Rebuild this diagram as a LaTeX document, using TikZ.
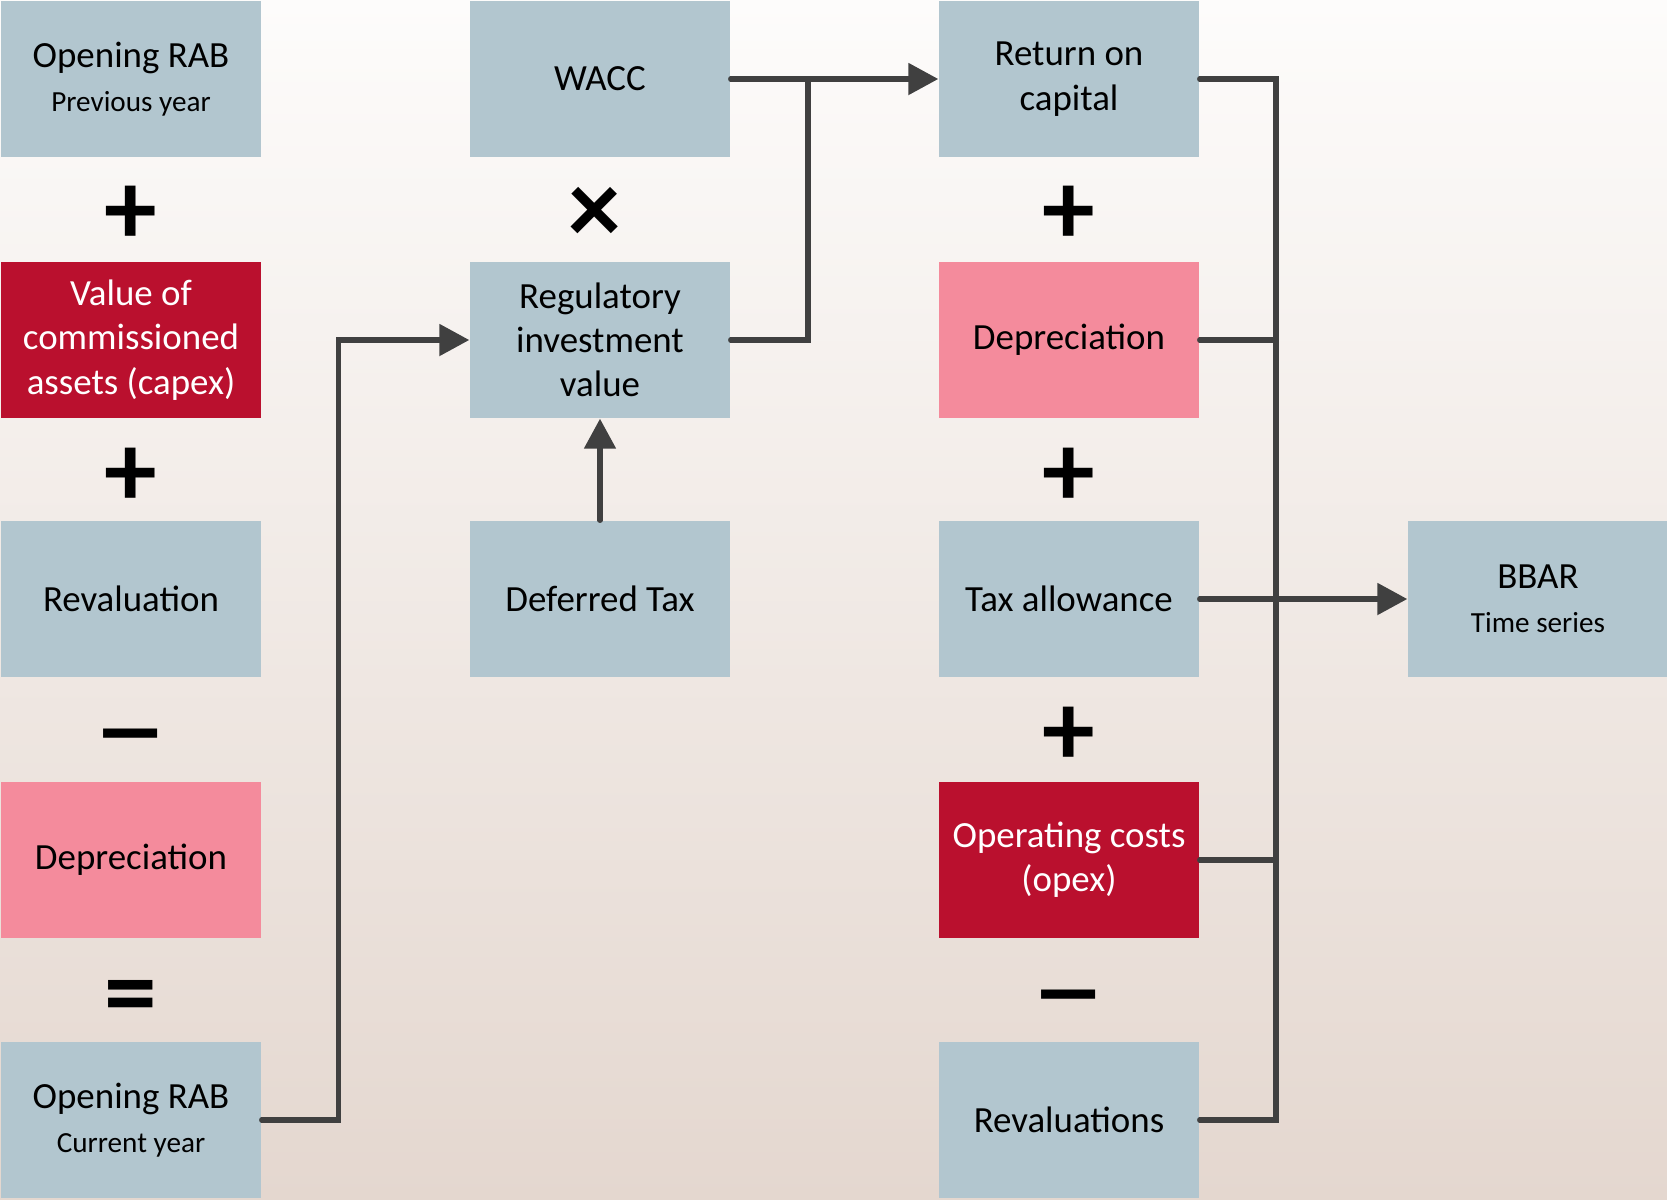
\documentclass[tikz,border=0pt]{standalone}
\usepackage{fontspec}
\setmainfont{Carlito}
\usetikzlibrary{arrows.meta}

\definecolor{boxblue}{RGB}{178,198,207}
\definecolor{capexred}{RGB}{186,16,46}
\definecolor{deprpink}{RGB}{244,139,156}
\definecolor{linegrey}{RGB}{64,64,64}
\definecolor{bgtop}{RGB}{253,252,251}
\definecolor{bgbottom}{RGB}{228,215,207}

\newcommand{\subline}[1]{{\fontsize{8.3}{10}\selectfont #1}}
\newcommand{\widedash}{\scalebox{1.45}[1]{–}}

\begin{document}
\begin{tikzpicture}[
    block/.style={minimum width=2.6cm, minimum height=1.56cm, inner sep=0pt,
                  align=center, font=\fontsize{10.5}{12.6}\selectfont},
    infobox/.style={block, fill=boxblue},
    capexbox/.style={block, fill=capexred, text=white},
    deprbox/.style={block, fill=deprpink},
    opsign/.style={font=\fontsize{30}{30}\bfseries\selectfont, inner sep=0pt},
    link/.style={draw=linegrey, line width=1.5pt, line cap=round},
    >={Triangle[length=3mm, width=3.1mm]}
]
    % Background
    \shade[top color=bgtop, bottom color=bgbottom] (0,0) rectangle (16.67,-12);
    \useasboundingbox (0,0) rectangle (16.67,-12);

    % RAB roll forward
    \node[infobox]  (orab1) at (1.31,-0.79)  {Opening RAB\\\subline{Previous year}};
    \node[capexbox] (capex) at (1.31,-3.40)  {Value of\\commissioned\\assets (capex)};
    \node[infobox]  (reval1) at (1.31,-5.99) {Revaluation};
    \node[deprbox]  (depr1) at (1.31,-8.60)  {Depreciation};
    \node[infobox]  (orab2) at (1.31,-11.20) {Opening RAB\\\subline{Current year}};

    \node[opsign] (p1) at (1.31,-2.15) {+};
    \node[opsign] (p2) at (1.31,-4.77) {+};
    \node[opsign] (m1) at (1.31,-7.46) {\widedash};
    \node[opsign] (eq) at (1.31,-10.04) {=};

    % Return on capital inputs
    \node[infobox] (wacc) at (6.00,-0.79)   {WACC};
    \node[infobox] (reg) at (6.00,-3.40)    {Regulatory\\investment\\value};
    \node[infobox] (deftax) at (6.00,-5.99) {Deferred Tax};

    \node[opsign] (times) at (5.95,-2.15) {×};

    % Building blocks
    \node[infobox]  (ret) at (10.69,-0.79)    {Return on\\capital};
    \node[deprbox]  (depr2) at (10.69,-3.40)  {Depreciation};
    \node[infobox]  (tax) at (10.69,-5.99)    {Tax allowance};
    \node[capexbox] (opex) at (10.69,-8.60)   {Operating costs\\(opex)};
    \node[infobox]  (reval2) at (10.69,-11.20) {Revaluations};

    \node[opsign] (p3) at (10.69,-2.15) {+};
    \node[opsign] (p4) at (10.69,-4.77) {+};
    \node[opsign] (p5) at (10.69,-7.36) {+};
    \node[opsign] (m2) at (10.69,-10.07) {\widedash};

    \node[infobox] (bbar) at (15.38,-5.99) {BBAR\\\subline{Time series}};

    % Connectors
    \coordinate (wjoin) at (8.08,-0.79);
    \coordinate (bus) at (12.76,0);

    \draw[link, ->] (wacc.east) -- (ret.west);
    \draw[link] (reg.east) -| (wjoin);
    \draw[link, ->] (orab2.east) -- ++(0.77,0) |- (reg.west);
    \draw[link, ->] (deftax.north) -- (reg.south);

    \draw[link] (ret.east) -- (ret.east -| bus) -- (reval2.east -| bus) -- (reval2.east);
    \foreach \n in {depr2, opex}
        \draw[link] (\n.east) -- (\n.east -| bus);
    \draw[link, ->] (tax.east) -- (bbar.west);
\end{tikzpicture}
\end{document}
